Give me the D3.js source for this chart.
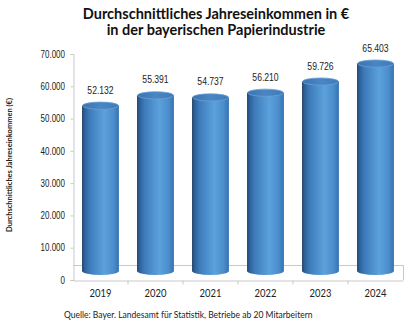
<!DOCTYPE html>
<html><head><meta charset="utf-8">
<script src="https://cdn.jsdelivr.net/npm/d3@7"></script>
<style>html,body{margin:0;padding:0;background:#fff;}svg{display:block;}</style>
</head><body>
<svg id="c" width="413" height="323"></svg>
<script>
const titleLines = ["Durchschnittliches Jahreseinkommen in €", "in der bayerischen Papierindustrie"];
const yAxisTitle = "Durchschnittliches Jahreseinkommen (€)";
const sourceNote = "Quelle: Bayer. Landesamt für Statistik, Betriebe ab 20 Mitarbeitern";
const years = ["2019", "2020", "2021", "2022", "2023", "2024"];
const incomes = [52132, 55391, 54737, 56210, 59726, 65403];
const yTicks = [0, 10000, 20000, 30000, 40000, 50000, 60000, 70000];

(function() {
const svg = d3.select("#c");
const loc = d3.formatLocale({decimal: ",", thousands: ".", grouping: [3], currency: ["", "€"]});
const fmt = loc.format(",d");

const pL = 73, pR = 403, pT = 54, pB = 280, depth = 15;
const y = d3.scaleLinear().domain([0, 70000]).range([pB, pT]);
// perspective scale for the cylinders (they stand mid-depth on the floor)
const yBar = d3.scaleLinear().domain([0, 70000]).range([pB - 9, pB - 9 - 222]);
const x = d3.scaleBand().domain(years).range([pL, pR]);

const defs = svg.append("defs");
const g1 = defs.append("linearGradient").attr("id", "cyl").attr("x1", "0").attr("x2", "1").attr("y1", "0").attr("y2", "0");
[[0, "#1a3859"], [0.05, "#2b5d93"], [0.2, "#3d7bbb"], [0.6, "#5ba1db"], [0.85, "#4c8ecd"], [1, "#3672b0"]]
  .forEach(([o, c]) => g1.append("stop").attr("offset", o).attr("stop-color", c));
const g2 = defs.append("linearGradient").attr("id", "cap").attr("x1", "0").attr("x2", "1").attr("y1", "0").attr("y2", "0");
[[0, "#3a74b0"], [0.5, "#4a86c4"], [1, "#3f7bb8"]]
  .forEach(([o, c]) => g2.append("stop").attr("offset", o).attr("stop-color", c));

const grid = "#c9c9c9";
svg.append("line").attr("x1", pL).attr("x2", pR).attr("y1", y(0) - depth + 0.5).attr("y2", y(0) - depth + 0.5).attr("stroke", grid);
svg.append("line").attr("x1", pR + 0.5).attr("x2", pR + 0.5).attr("y1", y(0) - depth).attr("y2", y(0)).attr("stroke", grid);

const yAxis = d3.axisLeft(y).tickValues(yTicks).tickFormat(fmt).tickSize(3).tickPadding(4);
const ya = svg.append("g").attr("transform", `translate(${pL + 0.5},0)`).call(yAxis);
ya.select(".domain").attr("stroke", grid);
ya.selectAll(".tick line").attr("stroke", grid);
ya.selectAll(".tick text").attr("font-family", "Liberation Sans, Arial, sans-serif").attr("font-size", 10).attr("fill", "#222")
  .attr("transform", "scale(0.8,1)")
  .attr("x", -8.5 / 0.8);

const xAxis = d3.axisBottom(x).tickSize(0).tickPadding(9);
const xa = svg.append("g").attr("transform", `translate(0,${pB + 0.5})`).call(xAxis);
xa.select(".domain").attr("stroke", grid);
xa.selectAll(".tick text").attr("font-family", "Lato, 'Open Sans', sans-serif").attr("font-size", 10.5).attr("fill", "#222")
  .attr("transform", "scale(0.9,1)");
xa.selectAll(".tick").attr("transform", d => `translate(${x(d) + x.bandwidth() / 2},0) scale(0.9,1)`);
xa.selectAll(".tick text").attr("transform", null);
xa.selectAll(".sep").data(years.slice(1)).enter().append("line").attr("class", "sep")
  .attr("x1", d => x(d)).attr("x2", d => x(d)).attr("y1", 0).attr("y2", 4).attr("stroke", grid);

const rx = x.bandwidth() * 0.335, ry = 4;
const bars = svg.append("g").selectAll("g").data(years.map((yr, i) => ({yr, v: incomes[i]}))).enter().append("g");
bars.each(function(d) {
  const g = d3.select(this);
  const cx = x(d.yr) + x.bandwidth() / 2;
  const yb = yBar(0), yt = yBar(d.v);
  g.append("path")
    .attr("d", `M${cx - rx},${yt} L${cx - rx},${yb} A${rx},${ry} 0 0 0 ${cx + rx},${yb} L${cx + rx},${yt} Z`)
    .attr("fill", "url(#cyl)");
  g.append("ellipse").attr("cx", cx).attr("cy", yt).attr("rx", rx - 0.4).attr("ry", ry - 0.4)
    .attr("fill", "url(#cap)").attr("stroke", "#6a9fd4").attr("stroke-width", 0.8);
  g.append("text").attr("transform", `translate(${cx},${yt - 12}) scale(0.82,1)`)
    .attr("text-anchor", "middle").attr("font-family", "Liberation Sans, Arial, sans-serif").attr("font-size", 10.5).attr("fill", "#222")
    .text(fmt(d.v));
});

svg.append("text").attr("x", 216).attr("y", 19).attr("text-anchor", "middle")
  .attr("font-family", "Lato, 'Open Sans', sans-serif").attr("font-weight", "bold").attr("font-size", 14.5).attr("fill", "#111")
  .text(titleLines[0]);
svg.append("text").attr("x", 216).attr("y", 35).attr("text-anchor", "middle")
  .attr("font-family", "Lato, 'Open Sans', sans-serif").attr("font-weight", "bold").attr("font-size", 14.5).attr("fill", "#111")
  .text(titleLines[1]);

svg.append("text").attr("transform", "translate(12,165) rotate(-90)").attr("text-anchor", "middle")
  .attr("font-family", "Lato, 'Open Sans', sans-serif").attr("font-weight", "bold").attr("font-size", 7.5).attr("fill", "#222")
  .text(yAxisTitle);

svg.append("text").attr("transform", "translate(64,318) scale(0.9,1)")
  .attr("font-family", "Lato, 'Open Sans', sans-serif").attr("font-size", 9.5).attr("fill", "#222")
  .text(sourceNote);
})();
</script>
</body></html>
